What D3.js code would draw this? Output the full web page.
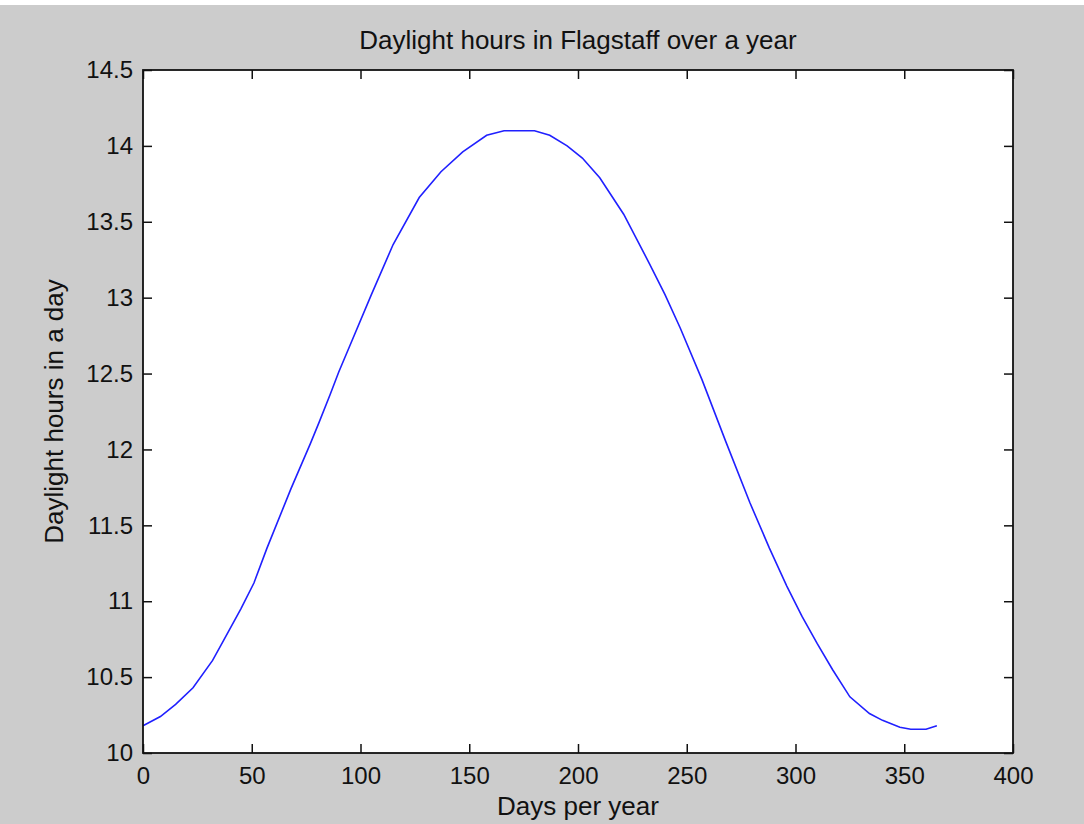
<!DOCTYPE html>
<html>
<head>
<meta charset="utf-8">
<script src="https://cdn.jsdelivr.net/npm/d3@7"></script>
<style>
  body { margin: 0; background: #fff; }
  text { font-family: "Liberation Sans", Arial, sans-serif; fill: #111; }
</style>
</head>
<body>
<div id="chart"></div>
<script>
// values
const days = [0, 8, 15, 23, 32, 37, 45, 51, 57, 68, 77, 81, 86, 90, 95, 105, 115, 127, 137, 147,
  158, 166, 172, 180, 187, 195, 202, 210, 221, 233, 240, 247, 257, 268, 279, 288, 296, 303,
  310, 317, 325, 334, 340, 348, 353, 360, 365];
const hours = [10.18, 10.24, 10.32, 10.43, 10.61, 10.74, 10.95, 11.12, 11.35, 11.74, 12.04, 12.18,
  12.36, 12.51, 12.68, 13.02, 13.35, 13.66, 13.83, 13.96, 14.07, 14.10, 14.10, 14.10, 14.07,
  14.00, 13.92, 13.79, 13.55, 13.22, 13.02, 12.80, 12.46, 12.05, 11.65, 11.35, 11.10, 10.90,
  10.72, 10.55, 10.37, 10.26, 10.215, 10.17, 10.156, 10.156, 10.18];
const xTicks = [0, 50, 100, 150, 200, 250, 300, 350, 400];
const yTicks = [10, 10.5, 11, 11.5, 12, 12.5, 13, 13.5, 14, 14.5];

const W = 1084, H = 824;
const margin = {top: 70, right: 71, bottom: 71, left: 143};
const width = W - margin.left - margin.right;
const height = H - margin.top - margin.bottom;
const tickLen = 9;

const svg = d3.select('#chart').append('svg')
  .attr('width', W)
  .attr('height', H);

svg.append('rect').attr('x', 0).attr('y', 5).attr('width', W).attr('height', H - 5)
  .attr('fill', '#cccccc');

const g = svg.append('g')
  .attr('transform', 'translate(' + margin.left + ',' + margin.top + ')');

const x = d3.scaleLinear().domain([0, 400]).range([0, width]);
const y = d3.scaleLinear().domain([10, 14.5]).range([height, 0]);

g.append('rect').attr('width', width).attr('height', height).attr('fill', '#fff');

// ticks on all four sides, pointing inward
const fmt = d => String(d);
const axes = [
  d3.axisBottom(x).tickValues(xTicks).tickSizeInner(-tickLen).tickSizeOuter(0).tickPadding(14).tickFormat(fmt),
  d3.axisTop(x).tickValues(xTicks).tickSizeInner(-tickLen).tickSizeOuter(0).tickFormat(''),
  d3.axisLeft(y).tickValues(yTicks).tickSizeInner(-tickLen).tickSizeOuter(0).tickPadding(10).tickFormat(fmt),
  d3.axisRight(y).tickValues(yTicks).tickSizeInner(-tickLen).tickSizeOuter(0).tickFormat('')
];
const offsets = ['translate(0,' + height + ')', 'translate(0,0)', 'translate(0,0)', 'translate(' + width + ',0)'];
axes.forEach((ax, i) => {
  const a = g.append('g').attr('transform', offsets[i]).call(ax);
  a.select('.domain').remove();
  a.selectAll('line').attr('stroke', '#111').attr('stroke-width', 1.5);
  a.selectAll('text').style('font-size', '24px').attr('fill', '#111')
    .style('font-family', '"Liberation Sans", Arial, sans-serif');
});

// the line
g.append('path')
  .datum(days.map((d, i) => [d, hours[i]]))
  .attr('fill', 'none')
  .attr('stroke', '#2020ff')
  .attr('stroke-width', 1.6)
  .attr('d', d3.line().x(d => x(d[0])).y(d => y(d[1])));

// box
g.append('rect').attr('width', width).attr('height', height)
  .attr('fill', 'none').attr('stroke', '#111').attr('stroke-width', 1.8);

svg.append('text')
  .attr('x', margin.left + width / 2).attr('y', 49)
  .attr('text-anchor', 'middle').style('font-size', '26px')
  .text('Daylight hours in Flagstaff over a year');

svg.append('text')
  .attr('x', margin.left + width / 2).attr('y', 815)
  .attr('text-anchor', 'middle').style('font-size', '26px')
  .text('Days per year');

svg.append('text')
  .attr('transform', 'translate(63,' + (margin.top + height / 2) + ') rotate(-90)')
  .attr('text-anchor', 'middle').style('font-size', '26px')
  .text('Daylight hours in a day');
</script>
</body>
</html>
